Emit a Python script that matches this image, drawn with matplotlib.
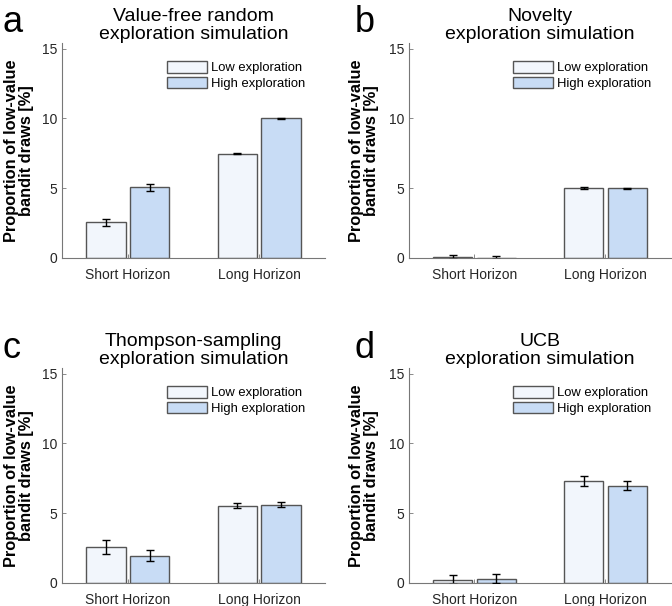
import matplotlib
matplotlib.use('Agg')
import matplotlib.pyplot as plt
import numpy as np

plt.rcParams['font.family'] = ['Liberation Sans', 'DejaVu Sans']

# data: [short horizon, long horizon]
horizons = ['Short Horizon', 'Long Horizon']
series_names = ['Low exploration', 'High exploration']
titles = ['Value-free random\nexploration simulation',
          'Novelty\nexploration simulation',
          'Thompson-sampling\nexploration simulation',
          'UCB\nexploration simulation']
letters = ['a', 'b', 'c', 'd']

low_mean = [[2.55, 7.48], [0.05, 5.0], [2.6, 5.55], [0.25, 7.3]]
low_err = [[0.25, 0.04], [0.15, 0.05], [0.5, 0.18], [0.3, 0.35]]
high_mean = [[5.05, 10.0], [0.03, 5.0], [1.95, 5.6], [0.3, 6.97]]
high_err = [[0.22, 0.04], [0.12, 0.03], [0.4, 0.18], [0.32, 0.32]]

low_color = '#F2F6FC'
high_color = '#C8DCF5'
edge = '#555555'

fig = plt.figure(figsize=(6.72, 6.06), dpi=100)

W, H = 672.0, 606.0
# axes boxes in pixels: left, top, right, bottom
boxes = [(62, 43, 325, 258), (409, 43, 671, 258),
         (62, 368, 325, 583), (409, 368, 671, 583)]
letter_pos = [(3, 32), (355, 32), (3, 358), (355, 358)]
label_x = [-0.108, -0.113, -0.108, -0.113]

x = np.arange(1, len(horizons) + 1)
w = 0.3
off = 0.167

for i in range(4):
    l, t, r, b = boxes[i]
    ax = fig.add_axes([l / W, 1 - b / H, (r - l) / W, (b - t) / H])
    ax.bar(x - off, low_mean[i], w, color=low_color, edgecolor=edge,
           linewidth=1.0, label=series_names[0], zorder=2)
    ax.bar(x + off, high_mean[i], w, color=high_color, edgecolor=edge,
           linewidth=1.0, label=series_names[1], zorder=2)
    ax.errorbar(x - off, low_mean[i], yerr=low_err[i], fmt='none',
                ecolor='black', elinewidth=1.0, capsize=3, capthick=1.0, zorder=3)
    ax.errorbar(x + off, high_mean[i], yerr=high_err[i], fmt='none',
                ecolor='black', elinewidth=1.0, capsize=3, capthick=1.0, zorder=3)

    ax.set_xlim(0.5, 2.5)
    ax.set_ylim(0, 15.4)
    ax.set_yticks([0, 5, 10, 15])
    ax.set_xticks(x)
    ax.set_xticklabels(horizons)
    for s in ['top', 'right']:
        ax.spines[s].set_visible(False)
    for s in ['left', 'bottom']:
        ax.spines[s].set_color('#777777')
        ax.spines[s].set_linewidth(0.8)
    ax.tick_params(direction='in', length=3, width=0.6, colors='#777777',
                   labelcolor='#262626', labelsize=10)
    ax.tick_params(axis='x', pad=7)

    ax.set_ylabel('Proportion of low-value\nbandit draws [%]', fontsize=11.8,
                  fontweight='bold', linespacing=1.0)
    ax.yaxis.set_label_coords(label_x[i], 0.5)
    ax.set_title(titles[i], fontsize=14, linespacing=1.05, pad=3)

    leg = ax.legend(loc='upper right', bbox_to_anchor=(0.925, 0.915),
                    frameon=False, fontsize=9.4, handlelength=3.1,
                    handleheight=0.95, handletextpad=0.3, labelspacing=0.2,
                    borderpad=0, borderaxespad=0)

    lx, ly = letter_pos[i]
    fig.text(lx / W, 1 - ly / H, letters[i], fontsize=26, ha='left',
             va='baseline')

fig.savefig('out.png', dpi=100)
